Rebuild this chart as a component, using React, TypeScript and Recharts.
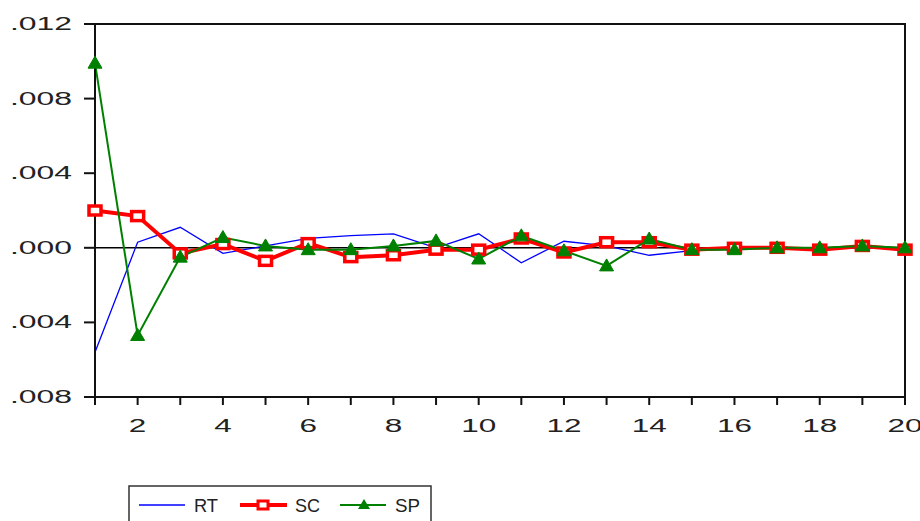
import React from "react";
import {
  LineChart,
  Line,
  XAxis,
  YAxis,
  ReferenceLine,
  ReferenceArea,
} from "recharts";

// ---- data ----
const periods = [1, 2, 3, 4, 5, 6, 7, 8, 9, 10, 11, 12, 13, 14, 15, 16, 17, 18, 19, 20];
const rtValues = [
  -0.0056, 0.0003, 0.0011, -0.0003, 0.0001, 0.0005, 0.00065, 0.00075, 0.0, 0.00075,
  -0.0008, 0.00035, 0.0001, -0.0004, -0.00015, -0.00005, 0.0, 0.0, 0.0, 0.0,
];
const scValues = [
  0.002, 0.0017, -0.0003, 0.0002, -0.0007, 0.00025, -0.0005, -0.0004, -0.0001, -0.0001,
  0.0005, -0.00025, 0.0003, 0.0003, -0.0001, 0.0, 0.0, -0.0001, 0.0001, -0.0001,
];
const spValues = [
  0.0099, -0.0047, -0.0005, 0.00055, 0.0001, -0.0001, -0.0001, 0.0001, 0.00037, -0.0006,
  0.00064, -0.00016, -0.00097, 0.00047, -0.0001, -0.0001, 0.0, 0.0, 0.0001, 0.0,
];
const yTicks = [-0.008, -0.004, 0, 0.004, 0.008, 0.012];
const yTickLabels = [".008", ".004", ".000", ".004", ".008", ".012"];
const xTicks = periods;
const seriesNames = ["RT", "SC", "SP"];

const data = periods.map((p, i) => ({
  period: p,
  RT: rtValues[i],
  SC: scValues[i],
  SP: spValues[i],
}));

const FONT = "'Liberation Sans', Arial, sans-serif";
const TEXT_COLOR = "#222";

const YTick = (props: any) => {
  const { x, y, payload } = props;
  const idx = yTicks.findIndex((t) => Math.abs(t - payload.value) < 1e-9);
  const label = idx >= 0 ? yTickLabels[idx] : "";
  return (
    <text
      x={x}
      y={y}
      dy={6}
      textAnchor="end"
      fontFamily={FONT}
      fontSize={18}
      fill={TEXT_COLOR}
      textLength={62}
      lengthAdjust="spacingAndGlyphs"
    >
      {label}
    </text>
  );
};

const XTick = (props: any) => {
  const { x, y, payload } = props;
  const v = payload.value;
  if (v % 2 !== 0) return <g />;
  const label = String(v);
  return (
    <text
      x={x}
      y={y}
      dy={27}
      textAnchor="middle"
      fontFamily={FONT}
      fontSize={18}
      fill={TEXT_COLOR}
      textLength={17.5 * label.length}
      lengthAdjust="spacingAndGlyphs"
    >
      {label}
    </text>
  );
};

const SquareDot = (props: any) => {
  const { cx, cy } = props;
  if (cx == null || cy == null) return <g />;
  return (
    <rect
      x={cx - 6}
      y={cy - 4.5}
      width={12}
      height={9}
      fill="#fff"
      stroke="#ff0000"
      strokeWidth={3.5}
    />
  );
};

const TriDot = (props: any) => {
  const { cx, cy } = props;
  if (cx == null || cy == null) return <g />;
  return (
    <polygon
      points={`${cx - 7},${cy + 5} ${cx + 7},${cy + 5} ${cx},${cy - 7}`}
      fill="#008000"
      stroke="#008000"
      strokeWidth={1}
    />
  );
};

const LegendBox = () => (
  <svg
    width={306}
    height={40}
    style={{ position: "absolute", left: 128, top: 485 }}
  >
    <rect x={1} y={1} width={302} height={60} fill="#fff" stroke="#333" strokeWidth={1.5} />
    <line x1={11} y1={20} x2={57} y2={20} stroke="#0000ff" strokeWidth={1.3} />
    <text x={66} y={27} fontFamily={FONT} fontSize={18} fill={TEXT_COLOR} textLength={24} lengthAdjust="spacingAndGlyphs">
      {seriesNames[0]}
    </text>
    <line x1={112} y1={20} x2={159} y2={20} stroke="#ff0000" strokeWidth={4} />
    <rect x={130} y={16} width={10} height={8} fill="#fff" stroke="#ff0000" strokeWidth={3} />
    <text x={167} y={27} fontFamily={FONT} fontSize={18} fill={TEXT_COLOR} textLength={25} lengthAdjust="spacingAndGlyphs">
      {seriesNames[1]}
    </text>
    <line x1={212} y1={20} x2={258} y2={20} stroke="#008000" strokeWidth={2} />
    <polygon points="230,24 242,24 236,14" fill="#008000" />
    <text x={267} y={27} fontFamily={FONT} fontSize={18} fill={TEXT_COLOR} textLength={25} lengthAdjust="spacingAndGlyphs">
      {seriesNames[2]}
    </text>
  </svg>
);

export default function App() {
  return (
    <div
      style={{
        position: "absolute",
        left: 0,
        top: 0,
        width: 920,
        height: 521,
        background: "#fff",
        overflow: "hidden",
      }}
    >
      <LineChart
        width={920}
        height={521}
        data={data}
        margin={{ top: 24, right: 15, bottom: 84, left: 0 }}
      >
        <XAxis
          dataKey="period"
          type="number"
          domain={[1, 20]}
          ticks={xTicks}
          interval={0}
          height={40}
          tickSize={8}
          tickMargin={0}
          tick={<XTick />}
          axisLine={{ stroke: "#111", strokeWidth: 2 }}
          tickLine={{ stroke: "#111", strokeWidth: 2 }}
        />
        <YAxis
          type="number"
          domain={[-0.008, 0.012]}
          ticks={yTicks}
          interval={0}
          width={95}
          tickSize={11}
          tickMargin={12}
          tick={<YTick />}
          axisLine={{ stroke: "#111", strokeWidth: 2 }}
          tickLine={{ stroke: "#111", strokeWidth: 2 }}
        />
        <ReferenceArea
          x1={1}
          x2={20}
          y1={-0.008}
          y2={0.012}
          fill="none"
          fillOpacity={0}
          stroke="#111"
          strokeWidth={2}
        />
        <ReferenceLine y={0} stroke="#000" strokeWidth={1.5} />
        <Line
          type="linear"
          dataKey="RT"
          stroke="#0000ff"
          strokeWidth={1.3}
          dot={false}
          isAnimationActive={false}
        />
        <Line
          type="linear"
          dataKey="SC"
          stroke="#ff0000"
          strokeWidth={4}
          dot={<SquareDot />}
          isAnimationActive={false}
        />
        <Line
          type="linear"
          dataKey="SP"
          stroke="#008000"
          strokeWidth={2}
          dot={<TriDot />}
          isAnimationActive={false}
        />
      </LineChart>
      <LegendBox />
    </div>
  );
}
